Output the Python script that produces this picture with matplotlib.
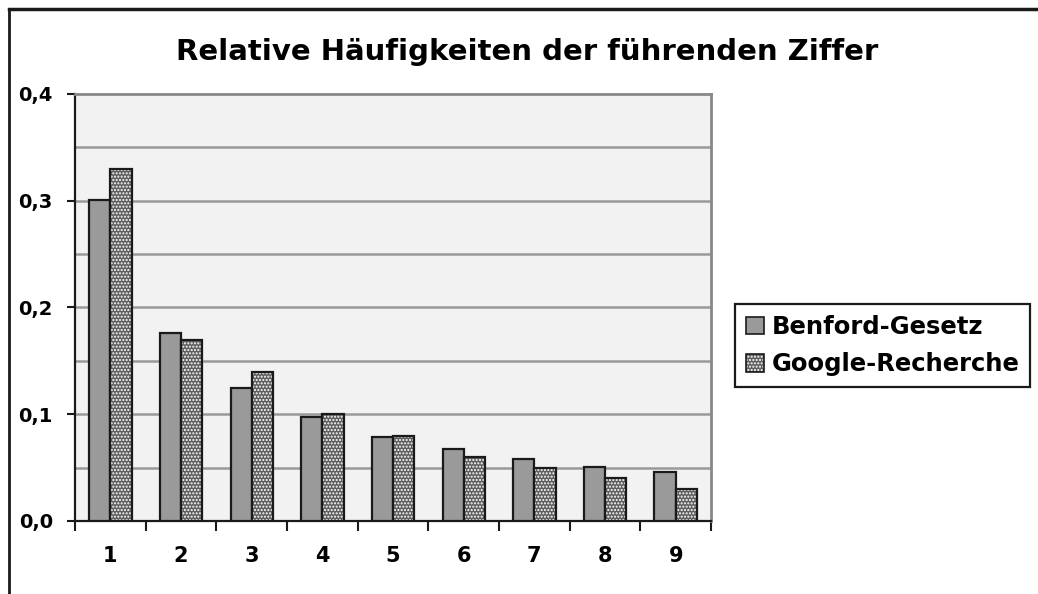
import numpy as np
import matplotlib
matplotlib.use('Agg')
import matplotlib.pyplot as plt
from matplotlib.patches import Patch
from matplotlib.lines import Line2D

# leading digit data
digits = ['1', '2', '3', '4', '5', '6', '7', '8', '9']
benford = [0.301, 0.176, 0.125, 0.097, 0.079, 0.067, 0.058, 0.051, 0.046]
google = [0.33, 0.17, 0.14, 0.10, 0.08, 0.06, 0.05, 0.04, 0.03]
yticks = [0.0, 0.1, 0.2, 0.3, 0.4]
ytick_labels = ['0,0', '0,1', '0,2', '0,3', '0,4']

plt.rcParams['font.family'] = ['DejaVu Sans']
plt.rcParams['font.weight'] = 'bold'

fig = plt.figure(figsize=(10.38, 5.94), dpi=100)
ax = fig.add_axes([0.0723, 0.1229, 0.6127, 0.7189])
ax.set_facecolor('#f2f2f2')

x = np.arange(len(digits))
w = 0.3
edge = '#1a1a1a'
ax.bar(x - w / 2, benford, w, color='#9a9a9a', edgecolor=edge, linewidth=1.6, zorder=3)
# checkered google bars: hatched fill, then outline on top
ax.bar(x + w / 2, google, w, color='#5e5e5e', edgecolor='white', hatch='.....',
       linewidth=0, zorder=3)
ax.bar(x + w / 2, google, w, color='none', edgecolor=edge, linewidth=1.6, zorder=4)

ax.set_xlim(-0.5, len(digits) - 0.5)
ax.set_ylim(0, 0.4)
ax.set_yticks(yticks)
ax.set_yticklabels(ytick_labels, fontsize=14, fontweight='bold')
for yv in np.arange(0.05, 0.4, 0.05):
    ax.axhline(yv, color='#999999', linewidth=1.8, zorder=1)

ax.set_xticks(x)
ax.set_xticklabels(digits, fontsize=15, fontweight='bold')
ax.tick_params(axis='x', length=0, pad=18)
ax.set_xticks(np.arange(-0.5, len(digits), 1.0), minor=True)
ax.tick_params(axis='x', which='minor', length=7, width=1.5, color=edge, direction='out')
ax.tick_params(axis='y', length=6, width=1.5, color=edge, pad=10)

for side in ['left', 'bottom']:
    ax.spines[side].set_color(edge)
    ax.spines[side].set_linewidth(1.6)
for side in ['top', 'right']:
    ax.spines[side].set_color('#888888')
    ax.spines[side].set_linewidth(2)

fig.text(0.508, 0.912, 'Relative Häufigkeiten der führenden Ziffer',
         ha='center', va='center', fontsize=21, fontweight='bold')

h_benford = Patch(facecolor='#9a9a9a', edgecolor=edge, linewidth=1.2)
h_google = (Patch(facecolor='#5e5e5e', edgecolor='white', hatch='.....', linewidth=0),
            Patch(facecolor='none', edgecolor=edge, linewidth=1.2))
leg = fig.legend([h_benford, h_google], ['Benford-Gesetz', 'Google-Recherche'],
                 loc='center left', bbox_to_anchor=(0.708, 0.418),
                 prop={'size': 17.5, 'weight': 'bold'}, fancybox=False,
                 edgecolor=edge, framealpha=1, handlelength=0.75, handleheight=0.75,
                 handletextpad=0.3, borderpad=0.45, labelspacing=0.55,
                 borderaxespad=0)
leg.get_frame().set_linewidth(1.6)

# outer chart border (left and top only visible)
fig.add_artist(Line2D([0.0082, 0.0082], [0.0, 0.985], color=edge, linewidth=2,
                      transform=fig.transFigure))
fig.add_artist(Line2D([0.0082, 1.0], [0.985, 0.985], color=edge, linewidth=2.5,
                      transform=fig.transFigure))

fig.savefig('out.png', dpi=100, facecolor='white')
